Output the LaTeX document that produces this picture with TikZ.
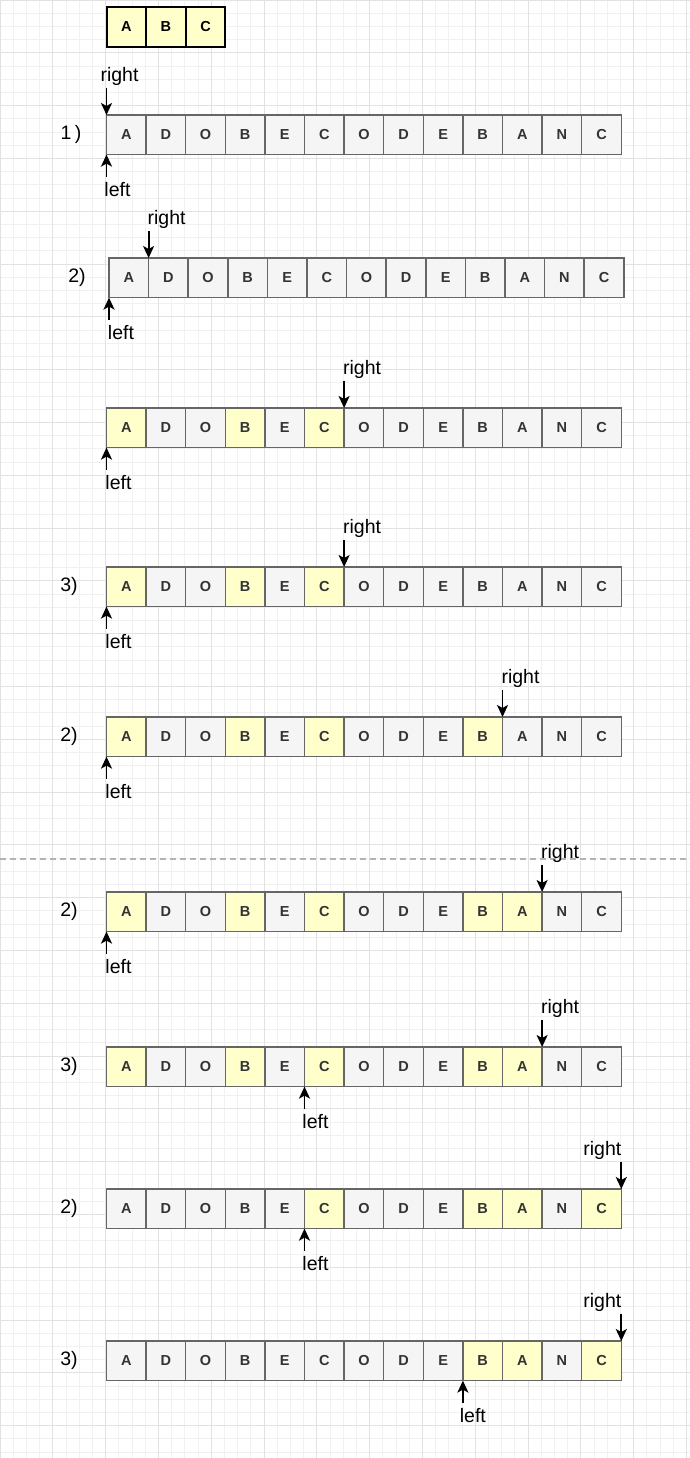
\documentclass[tikz,border=0pt]{standalone}
\usepackage{fontspec}
\setmainfont{Liberation Sans}
\usetikzlibrary{arrows.meta,calc}

\definecolor{cellgray}{HTML}{F5F5F5}
\definecolor{celledge}{HTML}{666666}
\definecolor{hitfill}{HTML}{FFFFCC}
\definecolor{gridminor}{HTML}{F1F1F1}
\definecolor{gridmajor}{HTML}{E2E2E2}
\definecolor{sepgray}{HTML}{B3B3B3}

\begin{document}
\begin{tikzpicture}[x=1pt,y=-1pt,
  cell/.style={draw=celledge,fill=cellgray,line width=1.5pt,minimum width=39.6pt,
    minimum height=39.6pt,inner sep=0pt,outer sep=0pt,text=black!80,
    font=\fontsize{14.5}{14.5}\selectfont\bfseries},
  hit/.style={fill=hitfill},
  keycell/.style={cell,draw=black,line width=2pt,fill=hitfill,text=black},
  ptr/.style={-{Stealth[length=12pt,width=11pt,inset=3pt]},line width=1.8pt},
  tag/.style={font=\fontsize{19.5}{19.5}\selectfont}]

  \fill[white] (0,0) rectangle (690,1458);
  \useasboundingbox (0,0) rectangle (690,1458);

  % background grid
  \foreach \g in {0,13.2,...,690} \draw[gridminor,line width=0.8pt] (\g,0) -- (\g,1458);
  \foreach \g in {0,13.2,...,1458} \draw[gridminor,line width=0.8pt] (0,\g) -- (690,\g);
  \foreach \g in {0,52.8,...,690} \draw[gridmajor,line width=0.9pt] (\g,0) -- (\g,1458);
  \foreach \g in {0,52.8,...,1458} \draw[gridmajor,line width=0.9pt] (0,\g) -- (690,\g);

  % the pattern
  \node[keycell] (kA) at (126.3,26.8) {A};
  \node[keycell] (kB) at (165.9,26.8) {B};
  \node[keycell] (kC) at (205.5,26.8) {C};

  % row 1
  \node[tag] (n1) at (71,134.8) {1\,)};
  \foreach \ch [count=\i from 0] in {A,D,O,B,E,C,O,D,E,B,A,N,C}
    \node[cell] (c1-\i) at (126.3+\i*39.6,134.8) {\ch};
  \coordinate (rt1) at ($(c1-0.north west)+(0,-27)$);
  \coordinate (lf1) at ($(c1-0.south west)+(0,22)$);
  \draw[ptr] (rt1) -- (c1-0.north west);
  \draw[ptr] (lf1) -- (c1-0.south west);
  \node[tag] (r1) at ($(rt1)+(13,-12)$) {right};
  \node[tag] (l1) at ($(lf1)+(11,13)$) {left};

  % row 2
  \node[tag] (n2) at (77,277.8) {2)};
  \foreach \ch [count=\i from 0] in {A,D,O,B,E,C,O,D,E,B,A,N,C}
    \node[cell] (c2-\i) at (128.8+\i*39.6,277.8) {\ch};
  \coordinate (rt2) at ($(c2-0.north east)+(0,-27)$);
  \coordinate (lf2) at ($(c2-0.south west)+(0,22)$);
  \draw[ptr] (rt2) -- (c2-0.north east);
  \draw[ptr] (lf2) -- (c2-0.south west);
  \node[tag] (r2) at ($(rt2)+(18,-12)$) {right};
  \node[tag] (l2) at ($(lf2)+(12,13)$) {left};

  % row 3
  \foreach \ch/\s [count=\i from 0] in {A/hit,D/,O/,B/hit,E/,C/hit,O/,D/,E/,B/,A/,N/,C/}
    \node[cell,\s] (c3-\i) at (126.3+\i*39.6,427.8) {\ch};
  \coordinate (rt3) at ($(c3-5.north east)+(0,-27)$);
  \coordinate (lf3) at ($(c3-0.south west)+(0,22)$);
  \draw[ptr] (rt3) -- (c3-5.north east);
  \draw[ptr] (lf3) -- (c3-0.south west);
  \node[tag] (r3) at ($(rt3)+(18,-12)$) {right};
  \node[tag] (l3) at ($(lf3)+(12,13)$) {left};

  % row 4
  \node[tag] (n4) at (69,586.8) {3)};
  \foreach \ch/\s [count=\i from 0] in {A/hit,D/,O/,B/hit,E/,C/hit,O/,D/,E/,B/,A/,N/,C/}
    \node[cell,\s] (c4-\i) at (126.3+\i*39.6,586.8) {\ch};
  \coordinate (rt4) at ($(c4-5.north east)+(0,-27)$);
  \coordinate (lf4) at ($(c4-0.south west)+(0,22)$);
  \draw[ptr] (rt4) -- (c4-5.north east);
  \draw[ptr] (lf4) -- (c4-0.south west);
  \node[tag] (r4) at ($(rt4)+(18,-12)$) {right};
  \node[tag] (l4) at ($(lf4)+(12,13)$) {left};

  % row 5
  \node[tag] (n5) at (69,736.8) {2)};
  \foreach \ch/\s [count=\i from 0] in {A/hit,D/,O/,B/hit,E/,C/hit,O/,D/,E/,B/hit,A/,N/,C/}
    \node[cell,\s] (c5-\i) at (126.3+\i*39.6,736.8) {\ch};
  \coordinate (rt5) at ($(c5-9.north east)+(0,-27)$);
  \coordinate (lf5) at ($(c5-0.south west)+(0,22)$);
  \draw[ptr] (rt5) -- (c5-9.north east);
  \draw[ptr] (lf5) -- (c5-0.south west);
  \node[tag] (r5) at ($(rt5)+(18,-12)$) {right};
  \node[tag] (l5) at ($(lf5)+(12,13)$) {left};

  % separator
  \coordinate (sepL) at (0,859);
  \coordinate (sepR) at (690,859);
  \draw[sepgray,line width=1.3pt,dash pattern=on 6pt off 4pt] (sepL) -- (sepR);

  % row 6
  \node[tag] (n6) at (69,911.8) {2)};
  \foreach \ch/\s [count=\i from 0] in {A/hit,D/,O/,B/hit,E/,C/hit,O/,D/,E/,B/hit,A/hit,N/,C/}
    \node[cell,\s] (c6-\i) at (126.3+\i*39.6,911.8) {\ch};
  \coordinate (rt6) at ($(c6-10.north east)+(0,-27)$);
  \coordinate (lf6) at ($(c6-0.south west)+(0,22)$);
  \draw[ptr] (rt6) -- (c6-10.north east);
  \draw[ptr] (lf6) -- (c6-0.south west);
  \node[tag] (r6) at ($(rt6)+(18,-12)$) {right};
  \node[tag] (l6) at ($(lf6)+(12,13)$) {left};

  % row 7
  \node[tag] (n7) at (69,1066.8) {3)};
  \foreach \ch/\s [count=\i from 0] in {A/hit,D/,O/,B/hit,E/,C/hit,O/,D/,E/,B/hit,A/hit,N/,C/}
    \node[cell,\s] (c7-\i) at (126.3+\i*39.6,1066.8) {\ch};
  \coordinate (rt7) at ($(c7-10.north east)+(0,-27)$);
  \coordinate (lf7) at ($(c7-5.south west)+(0,22)$);
  \draw[ptr] (rt7) -- (c7-10.north east);
  \draw[ptr] (lf7) -- (c7-5.south west);
  \node[tag] (r7) at ($(rt7)+(18,-12)$) {right};
  \node[tag] (l7) at ($(lf7)+(11,13)$) {left};

  % row 8
  \node[tag] (n8) at (69,1208.8) {2)};
  \foreach \ch/\s [count=\i from 0] in {A/,D/,O/,B/,E/,C/hit,O/,D/,E/,B/hit,A/hit,N/,C/hit}
    \node[cell,\s] (c8-\i) at (126.3+\i*39.6,1208.8) {\ch};
  \coordinate (rt8) at ($(c8-12.north east)+(0,-27)$);
  \coordinate (lf8) at ($(c8-5.south west)+(0,22)$);
  \draw[ptr] (rt8) -- (c8-12.north east);
  \draw[ptr] (lf8) -- (c8-5.south west);
  \node[tag] (r8) at ($(rt8)+(-19,-12)$) {right};
  \node[tag] (l8) at ($(lf8)+(11,13)$) {left};

  % row 9
  \node[tag] (n9) at (69,1360.8) {3)};
  \foreach \ch/\s [count=\i from 0] in {A/,D/,O/,B/,E/,C/,O/,D/,E/,B/hit,A/hit,N/,C/hit}
    \node[cell,\s] (c9-\i) at (126.3+\i*39.6,1360.8) {\ch};
  \coordinate (rt9) at ($(c9-12.north east)+(0,-27)$);
  \coordinate (lf9) at ($(c9-9.south west)+(0,22)$);
  \draw[ptr] (rt9) -- (c9-12.north east);
  \draw[ptr] (lf9) -- (c9-9.south west);
  \node[tag] (r9) at ($(rt9)+(-19,-12)$) {right};
  \node[tag] (l9) at ($(lf9)+(10,13)$) {left};

\end{tikzpicture}
\end{document}
